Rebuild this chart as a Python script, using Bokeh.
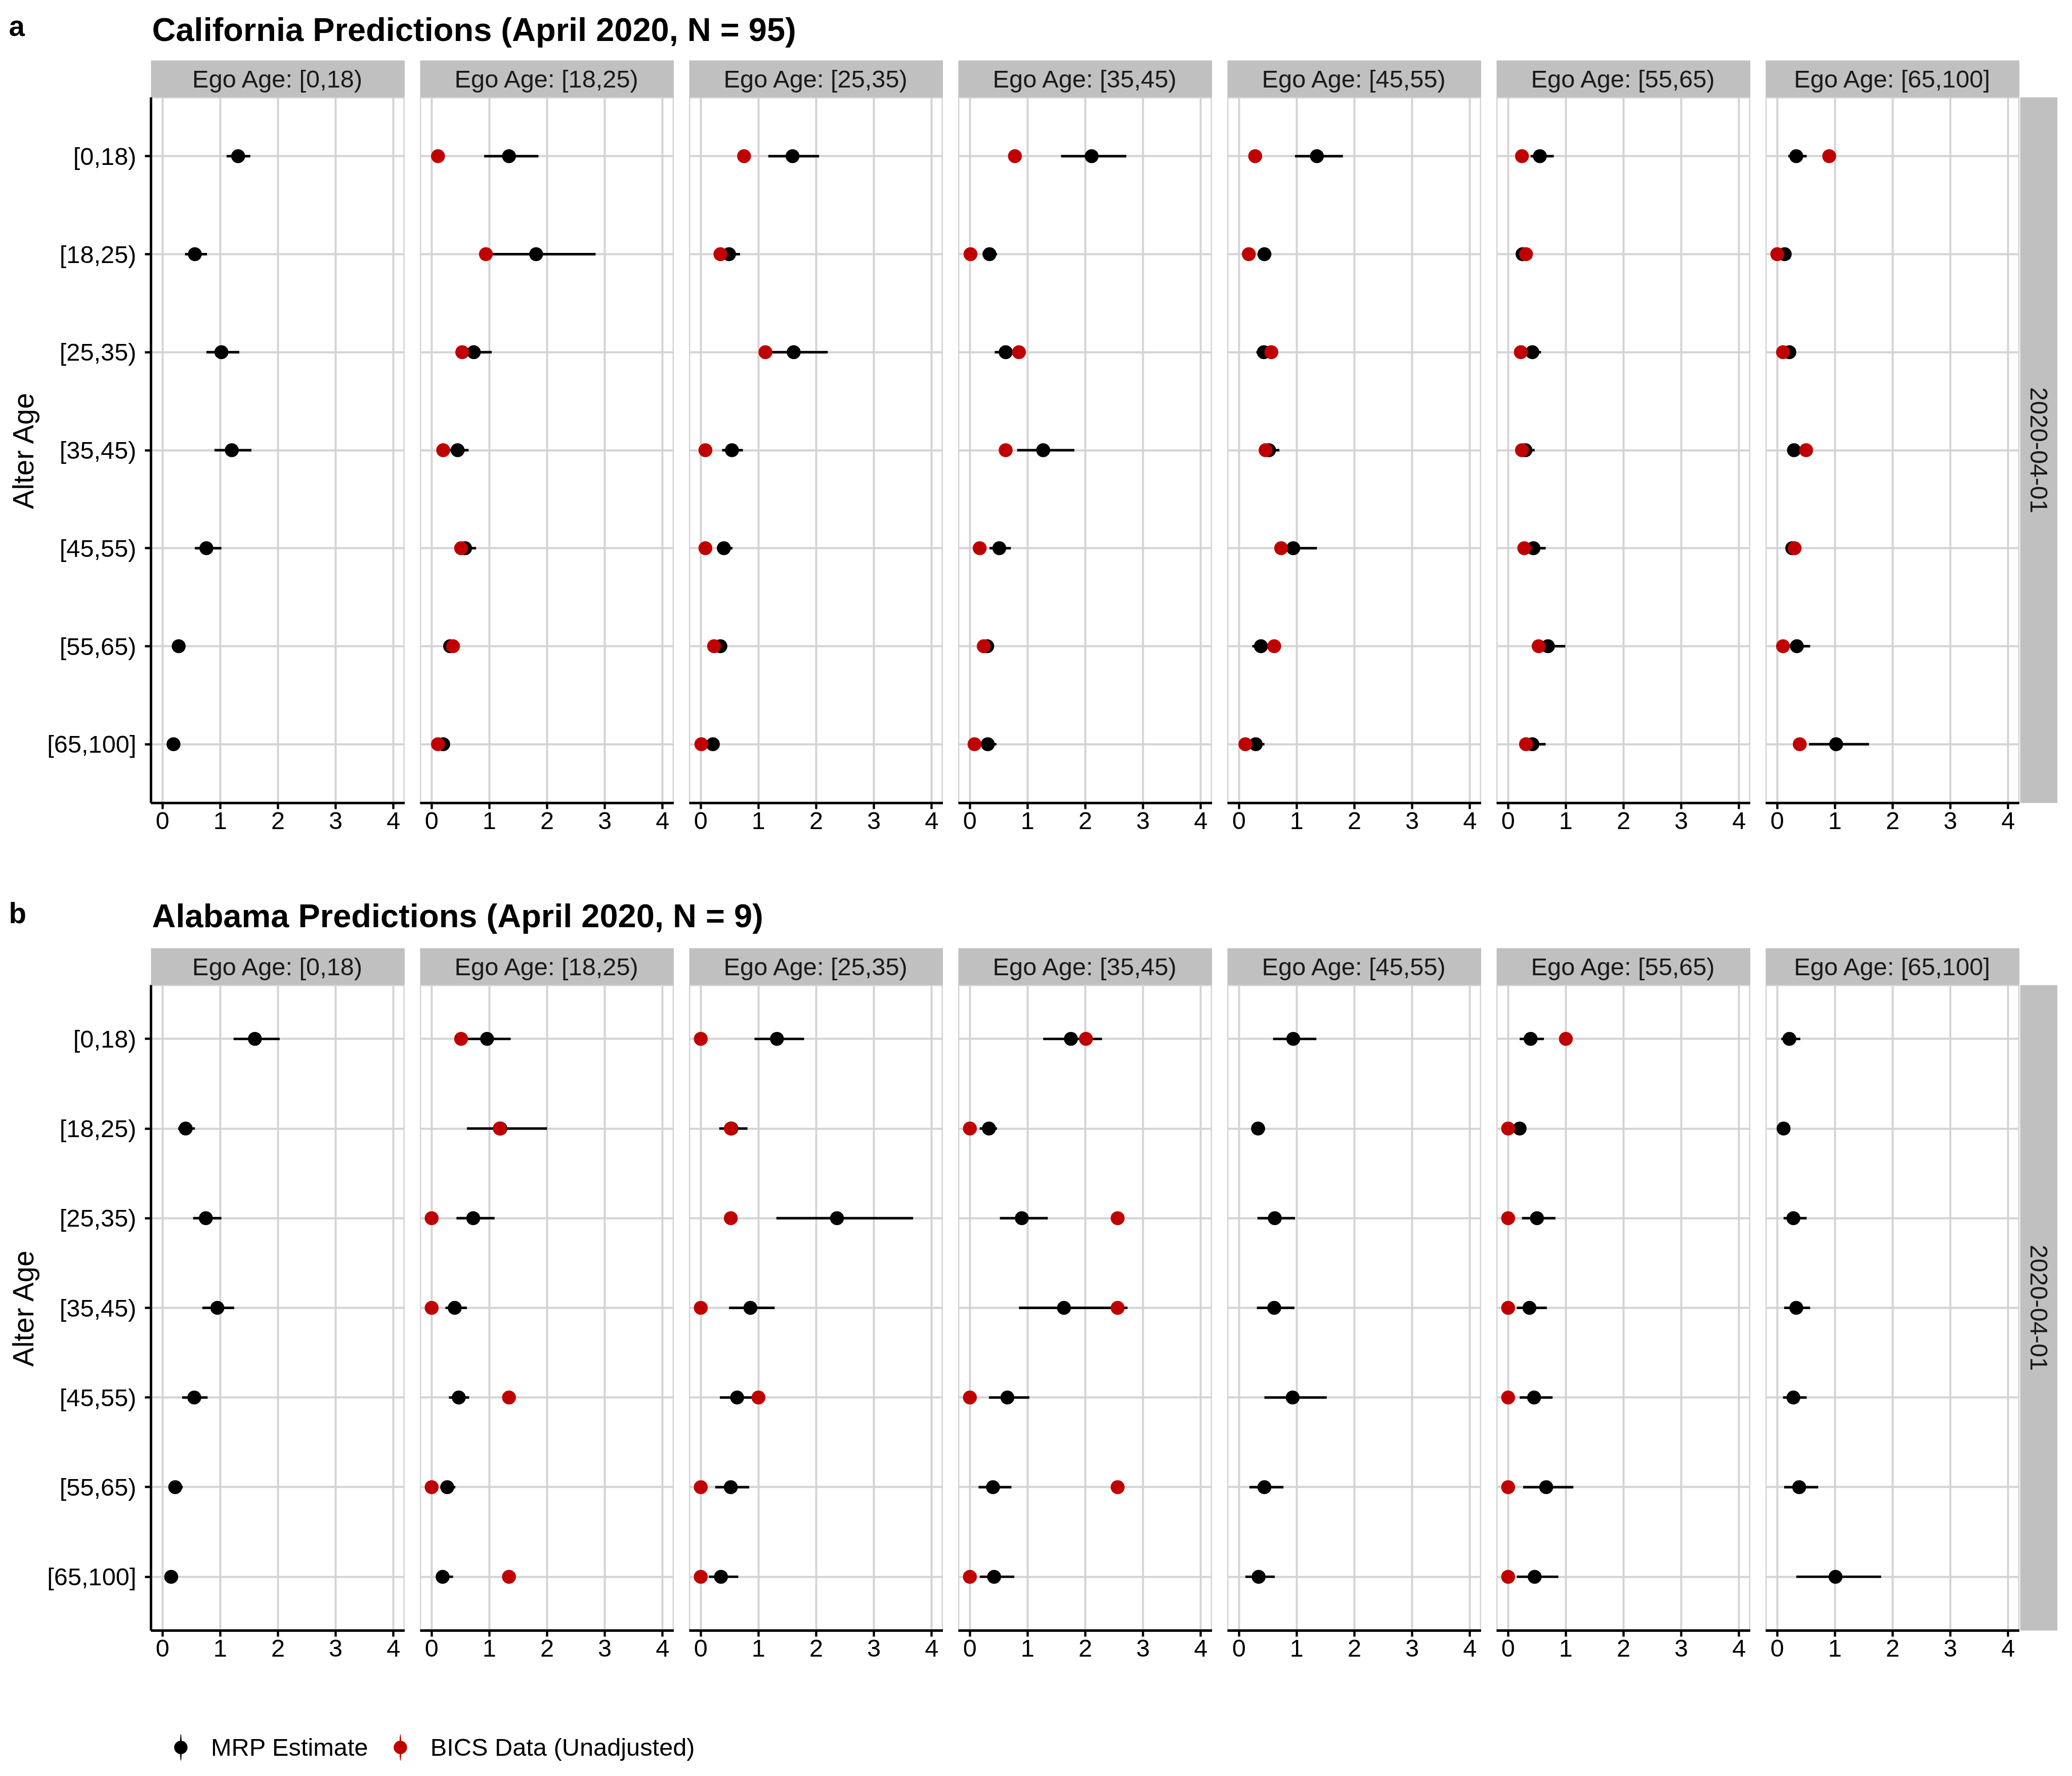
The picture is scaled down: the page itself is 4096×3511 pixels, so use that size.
import math
from bokeh.plotting import figure
from bokeh.models import Range1d, FactorRange, FixedTicker, Label, Legend, LegendItem
from bokeh.layouts import row, column
from bokeh.embed import file_html
from bokeh.resources import INLINE

NAN = float("nan")

# ---------------- data ----------------
alter_ages = ["[0,18)", "[18,25)", "[25,35)", "[35,45)", "[45,55)", "[55,65)", "[65,100]"]
ego_labels = ["Ego Age: [0,18)", "Ego Age: [18,25)", "Ego Age: [25,35)", "Ego Age: [35,45)",
              "Ego Age: [45,55)", "Ego Age: [55,65)", "Ego Age: [65,100]"]
date_label = "2020-04-01"
ca_title = "California Predictions (April 2020, N = 95)"
al_title = "Alabama Predictions (April 2020, N = 9)"
panel_tags = ["a", "b"]
y_title = "Alter Age"
x_ticks = [0, 1, 2, 3, 4]
legend_labels = ["MRP Estimate", "BICS Data (Unadjusted)"]

# California: one list per ego age group, values per alter age group
ca_mrp = [
    [1.31, 0.56, 1.02, 1.20, 0.76, 0.28, 0.19],
    [1.34, 1.81, 0.73, 0.45, 0.58, 0.32, 0.20],
    [1.59, 0.49, 1.61, 0.54, 0.40, 0.34, 0.21],
    [2.11, 0.34, 0.62, 1.27, 0.51, 0.30, 0.31],
    [1.35, 0.44, 0.43, 0.52, 0.94, 0.38, 0.29],
    [0.55, 0.25, 0.42, 0.30, 0.44, 0.69, 0.42],
    [0.33, 0.13, 0.21, 0.29, 0.26, 0.34, 1.02],
]
ca_lo = [
    [1.11, 0.39, 0.76, 0.90, 0.56, 0.22, 0.14],
    [0.91, 1.00, 0.47, 0.30, 0.42, 0.25, 0.13],
    [1.17, 0.33, 1.15, 0.37, 0.28, 0.25, 0.14],
    [1.58, 0.22, 0.43, 0.82, 0.34, 0.22, 0.20],
    [0.97, 0.32, 0.30, 0.38, 0.72, 0.23, 0.20],
    [0.39, 0.20, 0.30, 0.20, 0.30, 0.41, 0.28],
    [0.19, 0.07, 0.14, 0.20, 0.15, 0.22, 0.55],
]
ca_hi = [
    [1.52, 0.77, 1.33, 1.54, 1.02, 0.34, 0.25],
    [1.85, 2.84, 1.04, 0.64, 0.77, 0.40, 0.28],
    [2.05, 0.68, 2.20, 0.73, 0.55, 0.42, 0.29],
    [2.71, 0.47, 0.80, 1.81, 0.71, 0.41, 0.46],
    [1.80, 0.56, 0.60, 0.70, 1.35, 0.52, 0.44],
    [0.79, 0.32, 0.57, 0.46, 0.65, 0.99, 0.65],
    [0.51, 0.20, 0.28, 0.38, 0.42, 0.57, 1.59],
]
ca_bics = [
    [NAN, NAN, NAN, NAN, NAN, NAN, NAN],
    [0.11, 0.94, 0.53, 0.20, 0.51, 0.37, 0.11],
    [0.75, 0.34, 1.12, 0.08, 0.08, 0.23, 0.01],
    [0.78, 0.01, 0.85, 0.62, 0.17, 0.24, 0.08],
    [0.28, 0.17, 0.56, 0.46, 0.73, 0.61, 0.11],
    [0.24, 0.31, 0.22, 0.24, 0.28, 0.53, 0.31],
    [0.90, 0.00, 0.10, 0.50, 0.30, 0.10, 0.39],
]

# Alabama
al_mrp = [
    [1.60, 0.40, 0.75, 0.95, 0.55, 0.22, 0.15],
    [0.96, 1.19, 0.72, 0.40, 0.47, 0.27, 0.19],
    [1.32, 0.53, 2.36, 0.86, 0.63, 0.52, 0.35],
    [1.75, 0.33, 0.90, 1.63, 0.65, 0.40, 0.42],
    [0.94, 0.33, 0.62, 0.61, 0.93, 0.44, 0.34],
    [0.39, 0.20, 0.50, 0.37, 0.45, 0.66, 0.46],
    [0.21, 0.11, 0.28, 0.33, 0.28, 0.38, 1.01],
]
al_lo = [
    [1.23, 0.27, 0.53, 0.69, 0.34, 0.12, 0.08],
    [0.55, 0.61, 0.43, 0.24, 0.30, 0.15, 0.08],
    [0.93, 0.32, 1.31, 0.49, 0.33, 0.25, 0.14],
    [1.27, 0.17, 0.52, 0.85, 0.33, 0.15, 0.17],
    [0.59, 0.22, 0.32, 0.31, 0.44, 0.18, 0.11],
    [0.20, 0.12, 0.24, 0.15, 0.20, 0.26, 0.15],
    [0.07, 0.05, 0.11, 0.12, 0.10, 0.12, 0.33],
]
al_hi = [
    [2.03, 0.56, 1.02, 1.24, 0.78, 0.35, 0.27],
    [1.37, 2.00, 1.09, 0.61, 0.65, 0.41, 0.37],
    [1.79, 0.81, 3.68, 1.28, 0.95, 0.84, 0.65],
    [2.29, 0.47, 1.35, 2.73, 1.03, 0.72, 0.77],
    [1.34, 0.45, 0.97, 0.96, 1.52, 0.77, 0.62],
    [0.62, 0.30, 0.82, 0.67, 0.77, 1.13, 0.87],
    [0.40, 0.18, 0.51, 0.57, 0.51, 0.71, 1.80],
]
al_bics = [
    [NAN, NAN, NAN, NAN, NAN, NAN, NAN],
    [0.51, 1.18, 0.00, 0.00, 1.34, 0.00, 1.34],
    [0.00, 0.52, 0.52, 0.00, 1.00, 0.00, 0.00],
    [2.01, 0.00, 2.56, 2.56, 0.00, 2.56, 0.00],
    [NAN, NAN, NAN, NAN, NAN, NAN, NAN],
    [1.00, 0.00, 0.00, 0.00, 0.00, 0.00, 0.00],
    [NAN, NAN, NAN, NAN, NAN, NAN, NAN],
]

# ---------------- style ----------------
FONT = "Liberation Sans"
STRIP = "#C0C0C0"
GRID = "#D3D3D3"
RED = "#C00000"
PW = 502          # panel frame width
GAP = 30
LEFT = 298
BOTTOM = 90
TICK_FS = "48.75px"
PT_SIZE = 27.5


def make_header(h, tag, title, tag_y, title_y):
    p = figure(width=4096, height=h, x_range=Range1d(0, 4096), y_range=Range1d(h, 0),
               x_axis_location=None, y_axis_location=None, toolbar_location=None,
               output_backend="svg", min_border=0, outline_line_color=None)
    p.grid.visible = False
    p.add_layout(Label(x=17, y=tag_y, text=tag, text_font=FONT, text_font_size="56.5px",
                       text_font_style="bold", text_baseline="alphabetic", text_color="black"))
    p.add_layout(Label(x=300, y=title_y, text=title, text_font=FONT, text_font_size="65px",
                       text_font_style="bold", text_baseline="alphabetic", text_color="black"))
    return p


def make_strip(i, text):
    p = figure(frame_width=PW, frame_height=73, x_range=Range1d(0, 1), y_range=Range1d(0, 1),
               x_axis_location=None, y_axis_location=None, toolbar_location=None,
               output_backend="svg", min_border=0, min_border_left=LEFT if i == 0 else 0,
               background_fill_color=STRIP, border_fill_color="white", outline_line_color=None)
    p.grid.visible = False
    p.add_layout(Label(x=0.5, y=0.5, text=text, text_align="center", text_baseline="middle",
                       text_font=FONT, text_font_size=TICK_FS, text_color="#1A1A1A"))
    return p


def make_side_strip(frame_h):
    p = figure(frame_width=74, frame_height=frame_h, x_range=Range1d(0, 1), y_range=Range1d(0, 1),
               x_axis_location=None, y_axis_location=None, toolbar_location=None,
               output_backend="svg", min_border=0, min_border_bottom=BOTTOM,
               background_fill_color=STRIP, border_fill_color="white", outline_line_color=None)
    p.grid.visible = False
    p.add_layout(Label(x=0.5, y=0.5, text=date_label, text_align="center", text_baseline="middle",
                       angle=-math.pi / 2, text_font=FONT, text_font_size=TICK_FS,
                       text_color="#1A1A1A"))
    return p


def make_panel(i, mrp, lo, hi, bics, frame_h):
    first = i == 0
    p = figure(frame_width=PW, frame_height=frame_h, x_range=Range1d(-0.2, 4.2),
               y_range=FactorRange(factors=list(reversed(alter_ages)), range_padding=0.1,
                                   range_padding_units="absolute"),
               output_backend="svg", toolbar_location=None,
               y_axis_location="left" if first else None,
               min_border=0, min_border_left=LEFT if first else 0, min_border_bottom=BOTTOM,
               background_fill_color="white", border_fill_color="white",
               outline_line_color=GRID, outline_line_width=3.9)
    xt = FixedTicker(ticks=x_ticks)
    xa = p.xaxis[0]
    xa.ticker = xt
    p.xgrid.ticker = xt
    xa.axis_line_color = "black"
    xa.axis_line_width = 4.9
    xa.major_tick_line_color = "black"
    xa.major_tick_line_width = 4.4
    xa.major_tick_out = 12
    xa.major_tick_in = 0
    xa.minor_tick_out = 0
    xa.minor_tick_in = 0
    xa.major_label_text_font = FONT
    xa.major_label_text_font_size = TICK_FS
    xa.major_label_text_color = "black"
    xa.major_label_standoff = 6
    p.xgrid.grid_line_color = GRID
    p.xgrid.grid_line_width = 3.9
    p.ygrid.grid_line_color = GRID
    p.ygrid.grid_line_width = 3.9
    if first:
        ya = p.yaxis[0]
        ya.axis_label = y_title
        ya.axis_label_text_font = FONT
        ya.axis_label_text_font_size = "56.5px"
        ya.axis_label_text_font_style = "normal"
        ya.axis_label_text_color = "black"
        ya.axis_label_standoff = 12
        ya.axis_line_color = "black"
        ya.axis_line_width = 4.9
        ya.major_tick_line_color = "black"
        ya.major_tick_line_width = 4.4
        ya.major_tick_out = 12
        ya.major_tick_in = 0
        ya.major_label_text_font = FONT
        ya.major_label_text_font_size = TICK_FS
        ya.major_label_text_color = "black"
        ya.major_label_standoff = 17
    p.segment(x0=lo, y0=alter_ages, x1=hi, y1=alter_ages, line_color="black", line_width=4.9)
    p.scatter(x=mrp, y=alter_ages, size=PT_SIZE, fill_color="black", line_color=None)
    p.scatter(x=bics, y=alter_ages, size=PT_SIZE, fill_color=RED, line_color=None)
    return p


def section(mrp, lo, hi, bics, frame_h):
    strips = [make_strip(i, ego_labels[i]) for i in range(7)]
    panels = [make_panel(i, mrp[i], lo[i], hi[i], bics[i], frame_h) for i in range(7)]
    strip_row = row(*strips, spacing=GAP)
    panel_row = row(row(*panels, spacing=GAP), make_side_strip(frame_h), spacing=1)
    return strip_row, panel_row


headA = make_header(119, panel_tags[0], ca_title, 51, 58)
stripsA, panelsA = section(ca_mrp, ca_lo, ca_hi, ca_bics, 1395)
headB = make_header(197, panel_tags[1], al_title, 128, 133)
stripsB, panelsB = section(al_mrp, al_lo, al_hi, al_bics, 1276)

# legend
lg = figure(width=4096, height=198, x_range=Range1d(0, 1), y_range=Range1d(0, 1),
            x_axis_location=None, y_axis_location=None, toolbar_location=None,
            output_backend="svg", min_border=0, outline_line_color=None)
lg.grid.visible = False
e_b = lg.ellipse(x=[5], y=[5], width=4, height=60, width_units="screen", height_units="screen",
                 fill_color="black", line_color=None)
c_b = lg.scatter(x=[5], y=[5], size=PT_SIZE, fill_color="black", line_color=None)
e_r = lg.ellipse(x=[5], y=[5], width=4, height=60, width_units="screen", height_units="screen",
                 fill_color=RED, line_color=None)
c_r = lg.scatter(x=[5], y=[5], size=PT_SIZE, fill_color=RED, line_color=None)
legend = Legend(items=[LegendItem(label=legend_labels[0], renderers=[e_b, c_b]),
                       LegendItem(label=legend_labels[1], renderers=[e_r, c_r])],
                orientation="horizontal", location=(324, 24), glyph_width=66, glyph_height=66,
                label_standoff=27, spacing=30, padding=0, margin=0, border_line_color=None,
                background_fill_alpha=0, label_text_font=FONT, label_text_font_size=TICK_FS,
                label_text_color="black", label_text_baseline="middle")
lg.add_layout(legend, "center")

layout = column(headA, stripsA, panelsA, headB, stripsB, panelsB, lg, spacing=0)

open("out.html", "w").write(file_html(layout, INLINE))
